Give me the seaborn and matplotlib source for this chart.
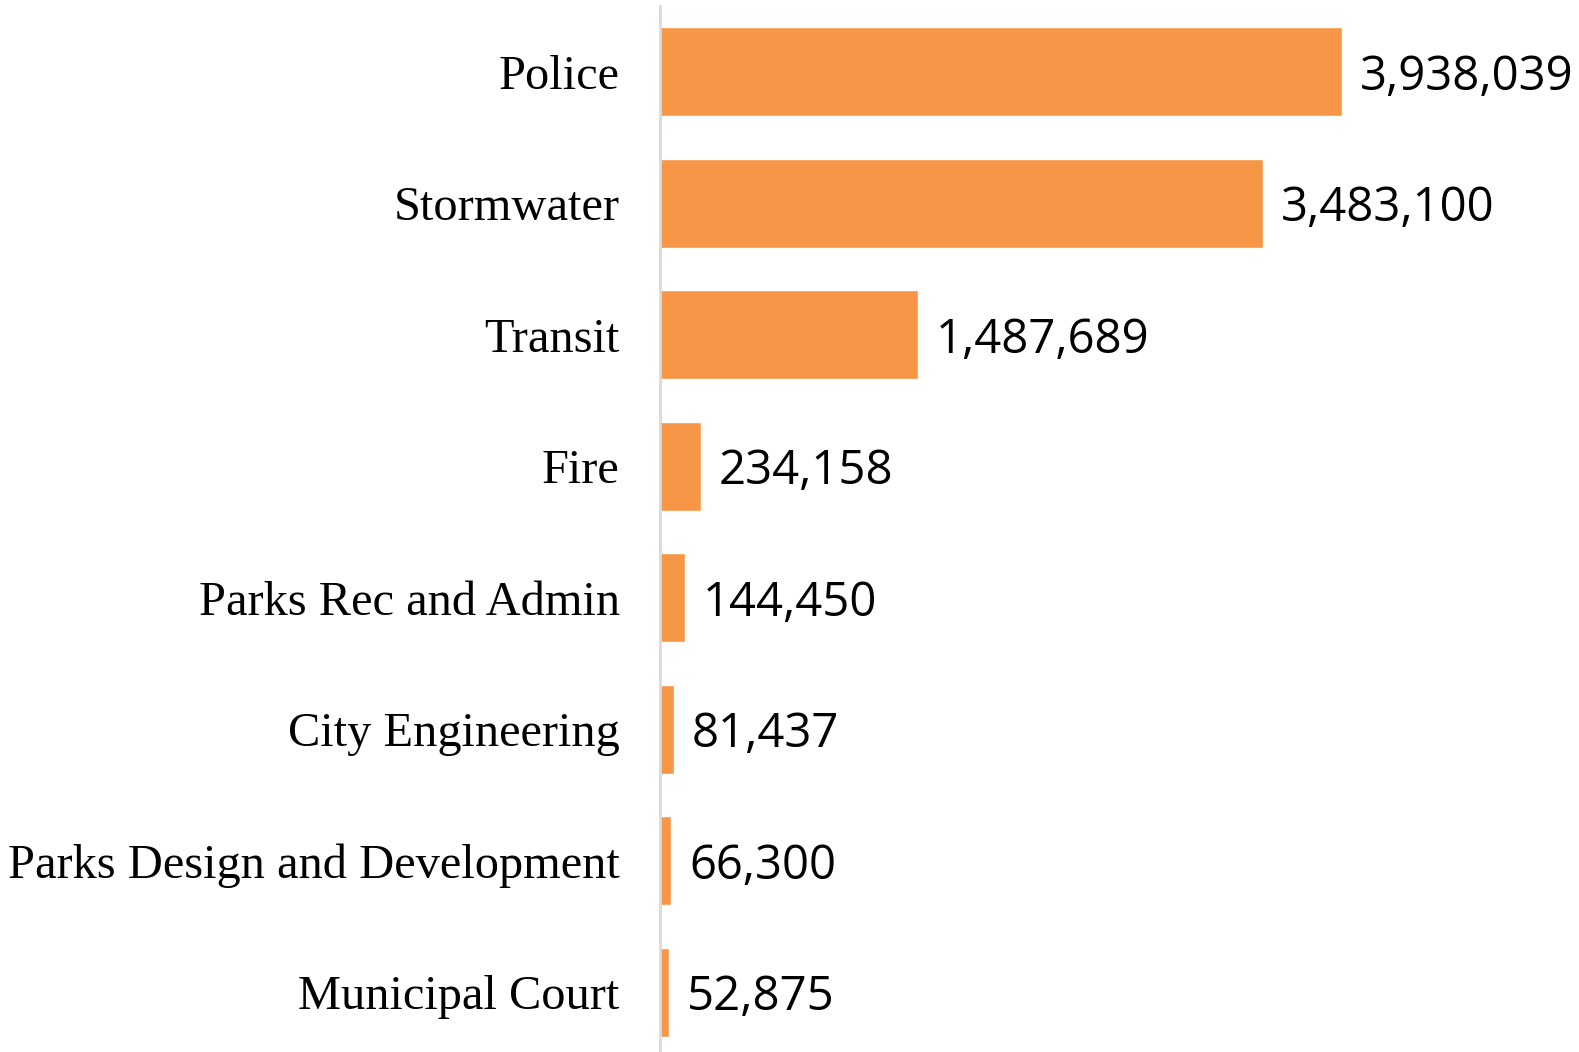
import matplotlib
matplotlib.use('Agg')
import matplotlib.pyplot as plt
import seaborn as sns
import pandas as pd

departments = ['Police', 'Stormwater', 'Transit', 'Fire', 'Parks Rec and Admin',
               'City Engineering', 'Parks Design and Development', 'Municipal Court']
amounts = [3938039, 3483100, 1487689, 234158, 144450, 81437, 66300, 52875]

df = pd.DataFrame({'Department': departments, 'Amount': amounts})

sns.set_style('white')
fig = plt.figure(figsize=(15.79, 10.52), dpi=100)
ax = fig.add_axes([660 / 1579, -6 / 1052, 1 - 660 / 1579, 1052 / 1052])

sns.barplot(data=df, y='Department', x='Amount', orient='h', color='#F79646',
            saturation=1, width=0.68, ax=ax)

# scale: 682 px for the largest bar
px = 3938039 / 682
ax.set_xlim(0, px * (1579 - 660))
ax.set_xlabel('')
ax.set_ylabel('')
ax.set_xticks([])
for s in ['top', 'right', 'bottom']:
    ax.spines[s].set_visible(False)
ax.spines['left'].set_color('#D9D9D9')
ax.spines['left'].set_linewidth(2)

ax.tick_params(axis='y', length=0, pad=29, colors='black')
for lbl in ax.get_yticklabels():
    lbl.set_family('Liberation Serif')
    lbl.set_fontsize(34.8)

for i, v in enumerate(amounts):
    ax.text(v + px * 18, i + 0.04, f'{v:,}', va='center', ha='left',
            fontsize=34, family='Open Sans', color='black')

fig.savefig('out.png', dpi=100)
